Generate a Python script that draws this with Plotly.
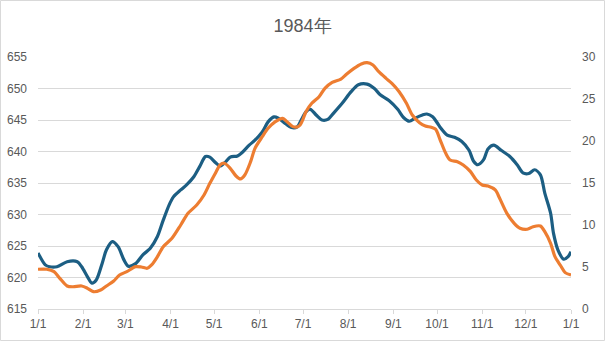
import pandas as pd
import plotly.graph_objects as go

# ---- data (day offset from 1984-01-01, value) ----
blue_days = [0, 5, 8, 13, 20, 27, 30, 34, 37, 40, 44, 47, 51, 55, 59, 62, 67, 72, 77, 82, 86,
             90, 93, 98, 102, 107, 111, 115, 118, 122, 125, 129, 132, 137, 140, 145, 149, 154,
             158, 162, 165, 170, 174, 178, 181, 184, 187, 191, 195, 199, 203, 209, 215, 220,
             226, 231, 235, 241, 247, 251, 255, 259, 264, 267, 271, 274, 276, 281, 286, 291,
             296, 299, 302, 306, 309, 313, 318, 324, 329, 333, 337, 341, 345, 348, 352, 354,
             357, 361, 364, 366]
blue_vals = [623.9, 622.0, 621.7, 621.7, 622.5, 622.5, 621.7, 620.1, 619.1, 619.6, 622.2, 624.4,
             625.7, 624.9, 622.8, 621.8, 622.2, 623.6, 624.6, 626.5, 629.1,
             631.5, 632.8, 633.9, 634.7, 636.0, 637.6, 639.2, 639.1, 638.2, 637.7, 638.4, 639.1,
             639.3, 639.8, 641.0, 641.8, 643.1, 644.7, 645.5, 645.3, 644.4, 643.8, 643.9, 645.1,
             646.3, 646.7, 645.8, 645.0, 645.1, 646.1, 647.7, 649.5, 650.6, 650.7, 650.0, 649.0,
             648.1, 646.7, 645.4, 644.8, 645.3, 645.8, 645.95, 645.5, 644.6, 643.9, 642.6,
             642.25, 641.6, 640.2, 638.5, 637.9, 638.7, 640.4, 641.0, 640.2, 639.2, 637.9,
             636.6, 636.5, 637.1, 636.3, 633.4, 630.2, 627.0, 624.4, 622.9, 623.3, 624.1]

orange_days = [0, 6, 11, 15, 20, 24, 30, 34, 38, 43, 47, 52, 56, 61, 67, 71, 75, 78, 82, 86,
               92, 98, 103, 109, 114, 118, 122, 125, 128, 132, 136, 139, 142, 146, 149, 154,
               158, 163, 168, 171, 175, 178, 180, 182, 184, 188, 193, 197, 202, 208, 212, 217,
               222, 226, 230, 234, 239, 243, 248, 253, 257, 262, 266, 270, 273, 276, 280, 283,
               288, 292, 297, 301, 305, 309, 314, 317, 322, 327, 331, 336, 340, 345, 348, 352,
               355, 359, 362, 366]
orange_vals = [4.73, 4.73, 4.45, 3.65, 2.74, 2.65, 2.74, 2.46, 2.06, 2.26, 2.74, 3.33, 4.05,
               4.45, 5.04, 5.0, 4.85, 5.24, 6.23, 7.42,
               8.42, 10.0, 11.39, 12.38, 13.57, 14.96, 16.23, 17.14, 17.35, 16.75, 15.83, 15.48,
               15.95, 17.54, 19.13, 20.51, 21.51, 22.30, 22.70, 22.30, 21.71, 21.67, 21.9, 22.6,
               23.49, 24.49, 25.27, 26.27, 26.98, 27.38, 27.98, 28.65, 29.17, 29.33, 29.05,
               28.25, 27.46, 26.87, 25.87, 24.49, 23.10, 22.18, 21.79, 21.63, 21.4, 20.2, 18.53,
               17.74, 17.54, 17.14, 16.35, 15.36, 14.76, 14.64, 14.17, 13.18, 11.39, 10.20, 9.61,
               9.49, 9.80, 9.88, 9.20, 7.82, 6.23, 5.12, 4.33, 4.05]

tick_dates = ["1984-01-01", "1984-02-01", "1984-03-01", "1984-04-01", "1984-05-01",
              "1984-06-01", "1984-07-01", "1984-08-01", "1984-09-01", "1984-10-01",
              "1984-11-01", "1984-12-01", "1985-01-01"]
tick_labels = ["1/1", "2/1", "3/1", "4/1", "5/1", "6/1", "7/1", "8/1", "9/1", "10/1",
               "11/1", "12/1", "1/1"]

title_text = "1984年"

start = pd.Timestamp("1984-01-01")
blue_x = [start + pd.Timedelta(days=d) for d in blue_days]
orange_x = [start + pd.Timedelta(days=d) for d in orange_days]

BLUE = "#1c5e83"
ORANGE = "#ed7d31"
GRID = "#d9d9d9"
TXT = "#595959"
FONT = "Liberation Sans, Arial, sans-serif"

fig = go.Figure()
fig.add_trace(go.Scatter(x=blue_x, y=blue_vals, mode="lines",
                         line=dict(color=BLUE, width=3.2, shape="spline", smoothing=0.8),
                         yaxis="y", showlegend=False))
fig.add_trace(go.Scatter(x=orange_x, y=orange_vals, mode="lines",
                         line=dict(color=ORANGE, width=3.2, shape="spline", smoothing=0.8),
                         yaxis="y2", showlegend=False))

W, H = 605, 341
L, R, T, B = 38, 34, 57, 32
pw, ph = W - L - R, H - T - B

fig.update_layout(
    width=W, height=H,
    margin=dict(l=L, r=R, t=T, b=B, pad=0, autoexpand=False),
    paper_bgcolor="white", plot_bgcolor="white",
    font=dict(family=FONT, size=12, color=TXT),
    title=dict(text=title_text, x=0.5, xanchor="center", y=1 - 26 / H, yanchor="middle",
               yref="container", automargin=False,
               font=dict(family=FONT, size=18, color=TXT)),
    xaxis=dict(type="date", range=["1984-01-01", "1985-01-01"],
               tickvals=tick_dates, ticktext=tick_labels, automargin=False,
               showgrid=False, zeroline=False,
               showline=True, linecolor=GRID, linewidth=1,
               ticks="outside", ticklen=4, tickcolor=GRID, tickwidth=1,
               tickfont=dict(size=12, color=TXT)),
    yaxis=dict(range=[615, 655], dtick=5, tick0=615, automargin=False,
               showgrid=True, gridcolor=GRID, gridwidth=1, zeroline=False,
               showline=False, ticks="", ticklabelstandoff=10,
               tickfont=dict(size=12, color=TXT)),
    yaxis2=dict(range=[0, 30], dtick=5, tick0=0, overlaying="y", side="right",
                automargin=False,
                showgrid=False, zeroline=False, showline=False, ticks="",
                ticklabelstandoff=10, tickfont=dict(size=12, color=TXT)),
)

# outer chart border
fig.add_shape(type="rect", xref="paper", yref="paper",
              x0=(0.5 - L) / pw, x1=(W - 0.5 - L) / pw,
              y0=(H - B - (H - 0.5)) / ph, y1=(H - B - 0.5) / ph,
              line=dict(color=GRID, width=1), fillcolor="rgba(0,0,0,0)", layer="below")

fig.write_html("out.html")
